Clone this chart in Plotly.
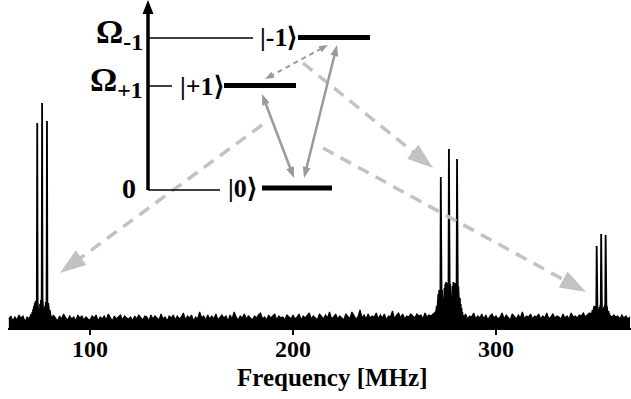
import math
import plotly.graph_objects as go

# ---------------- data ----------------
# broadband noise floor, one sample per MHz starting at 60 MHz
noise_start_mhz = 60
noise_levels = [
    9, 12, 7, 11, 8, 13, 10, 12, 6, 11, 9, 14, 10, 12, 11, 13, 10, 12, 9, 11,
    12, 8, 13, 10, 7, 12, 9, 14, 10, 8, 12, 9, 11, 7, 13, 10, 12, 8, 11, 9,
    8, 12, 10, 13, 7, 11, 9, 12, 8, 14, 10, 7, 12, 9, 11, 13, 8, 12, 10, 9,
    11, 7, 12, 9, 13, 10, 8, 12, 11, 7, 13, 9, 12, 10, 8, 14, 9, 11, 7, 12,
    10, 13, 8, 12, 9, 11, 15, 8, 12, 10, 13, 7, 11, 9, 16, 10, 12, 8, 13, 9,
    12, 9, 14, 8, 11, 13, 10, 12, 7, 13, 9, 16, 11, 8, 12, 10, 14, 9, 12, 10,
    8, 12, 10, 13, 15, 9, 11, 8, 13, 10, 12, 14, 8, 12, 10, 11, 8, 13, 11, 9,
    13, 9, 11, 14, 8, 12, 10, 13, 15, 9, 12, 10, 8, 14, 11, 9, 13, 10, 16, 9,
    11, 14, 9, 12, 10, 8, 14, 11, 9, 16, 12, 9, 11, 18, 10, 13, 9, 14, 10, 12,
    11, 15, 9, 13, 10, 14, 8, 12, 11, 17, 9, 13, 15, 10, 14, 9, 12, 11, 14, 12,
    10, 14, 12, 13, 9, 15, 11, 13, 12, 14, 15, 16, 17, 18, 16, 15, 14, 13, 12, 11,
    13, 15, 14, 12, 10, 14, 9, 12, 11, 15, 9, 12, 10, 14, 9, 13, 8, 12, 14, 10,
    12, 9, 11, 15, 9, 13, 10, 8, 14, 11, 9, 13, 10, 16, 9, 12, 11, 14, 9, 12,
    11, 14, 9, 12, 10, 15, 9, 11, 14, 10, 12, 11, 9, 14, 10, 12, 9, 15, 11, 12,
    10, 13, 12, 15, 11, 13, 15, 14, 16, 17, 16, 15, 16, 14, 15, 13, 12, 10, 13, 11,
    12, 9, 13, 10, 12, 9, 11,
]

# resonance groups, sampled every 0.2 MHz
fine_step_mhz = 0.2

group1_start_mhz = 70.0
group1_levels = [
    8, 6, 10, 7, 12, 9, 14, 11, 16, 13, 19, 15, 22, 17, 25, 20, 27, 18, 24, 30,
    205, 26, 12, 22, 4, 18, 10, 24, 14, 28, 20, 32, 225, 30, 16, 26, 6, 20, 3, 22,
    14, 26, 20, 28, 207, 24, 18, 25, 15, 22, 13, 18, 10, 15, 8, 12, 7, 10, 6, 9, 7,
]

group2_start_mhz = 269.0
group2_levels = [
    9, 12, 8, 14, 10, 16, 11, 18, 13, 22, 15, 28, 18, 34, 20, 38, 24, 35, 30, 151,
    32, 22, 38, 12, 34, 6, 30, 18, 40, 26, 44, 30, 46, 34, 42, 38, 45, 36, 44, 179,
    42, 30, 44, 14, 36, 5, 32, 20, 42, 28, 46, 32, 44, 36, 45, 38, 44, 34, 42, 169,
    40, 30, 42, 22, 36, 16, 30, 14, 24, 12, 20, 10, 16, 8, 13, 7, 11, 6, 10, 7, 9,
]

group3_start_mhz = 345.0
group3_levels = [
    8, 11, 7, 12, 9, 13, 8, 14, 10, 15, 11, 16, 12, 18, 14, 20, 15, 22, 17, 21,
    16, 22, 18, 82, 20, 12, 19, 6, 18, 10, 21, 15, 23, 19, 94, 22, 14, 20, 4, 18,
    9, 21, 15, 23, 19, 93, 21, 16, 22, 13, 19, 11, 17, 10, 15, 9, 13, 8, 12, 7,
    11, 8, 12, 7, 10, 8, 11, 7, 10, 8, 9,
]

tick_values = [100, 200, 300]
tick_labels = ["100", "200", "300"]
x_title = "Frequency [MHz]"

level_names = ["|-1⟩", "|+1⟩", "|0⟩"]
energy_labels = ["Ω<sub>-1</sub>", "Ω<sub>+1</sub>", "0"]

# ---------------- layout constants ----------------
W, H = 631, 399
ML, MR, MT, MB = 8, 0, 0, 71
PLOT_W = W - ML - MR
PLOT_H = H - MT - MB
X_RANGE = [59.6, 366.5]
Y_RANGE = [0, PLOT_H]

FONT = "Liberation Serif, Times New Roman, serif"
DARK = "#9a9a9a"
LIGHT = "#c2c2c2"


def grid(start, n, step):
    return [round(start + step * i, 3) for i in range(n)]


def px(x):
    return (x - ML) / PLOT_W


def py(y):
    return (MT + PLOT_H - y) / PLOT_H


fig = go.Figure()

fig.add_trace(go.Scatter(
    x=grid(noise_start_mhz, len(noise_levels), 1.0), y=noise_levels,
    mode="lines", line=dict(color="black", width=1.2),
    fill="tozeroy", fillcolor="black", hoverinfo="skip", showlegend=False))

for start, levels in [(group1_start_mhz, group1_levels),
                      (group2_start_mhz, group2_levels),
                      (group3_start_mhz, group3_levels)]:
    fig.add_trace(go.Scatter(
        x=grid(start, len(levels), fine_step_mhz), y=levels,
        mode="lines", line=dict(color="black", width=1.8),
        fill="tozeroy", fillcolor="black",
        hoverinfo="skip", showlegend=False))

shapes = []
annotations = []


def line(x0, y0, x1, y1, color="black", width=1.5, dash="solid"):
    shapes.append(dict(type="line", xref="paper", yref="paper",
                       x0=px(x0), y0=py(y0), x1=px(x1), y1=py(y1),
                       line=dict(color=color, width=width, dash=dash)))


def head(tip, tail, length, width, color):
    dx, dy = tip[0] - tail[0], tip[1] - tail[1]
    d = math.hypot(dx, dy)
    ux, uy = dx / d, dy / d
    bx, by = tip[0] - ux * length, tip[1] - uy * length
    nx, ny = -uy, ux
    p1 = (bx + nx * width / 2, by + ny * width / 2)
    p2 = (bx - nx * width / 2, by - ny * width / 2)
    path = "M {},{} L {},{} L {},{} Z".format(
        px(tip[0]), py(tip[1]), px(p1[0]), py(p1[1]), px(p2[0]), py(p2[1]))
    shapes.append(dict(type="path", xref="paper", yref="paper", path=path,
                       fillcolor=color, line=dict(width=0)))
    return (tip[0] - ux * length * 0.8, tip[1] - uy * length * 0.8)


def arrow(tail, tip, color, width, hl, hw, dash="solid", double=False):
    end = head(tip, tail, hl, hw, color)
    start = tail
    if double:
        start = head(tail, tip, hl, hw, color)
    line(start[0], start[1], end[0], end[1], color=color, width=width, dash=dash)


def text(x, y, s, size, anchor="center"):
    annotations.append(dict(xref="paper", yref="paper", x=px(x), y=py(y),
                            text=s, showarrow=False, xanchor=anchor,
                            yanchor="middle",
                            font=dict(family=FONT, size=size, color="black",
                                      weight="bold")))


# light dashed arrows pointing to the resonance groups
arrow((262, 125), (60, 273), LIGHT, 3.5, 26, 18, dash="12px,8px")
arrow((303, 63), (433, 168), LIGHT, 3.5, 26, 18, dash="12px,8px")
arrow((323, 148), (586, 292), LIGHT, 3.5, 26, 18, dash="12px,8px")

# energy axis
line(148, 190, 148, 10, width=3.5)
head((148, 0), (148, 100), 14, 11, "black")

# levels
line(148, 38, 253, 38)
line(148, 86, 172, 86)
line(148, 190, 220, 190)
line(298, 37.5, 370, 37.5, width=5)
line(224, 85.5, 296, 85.5, width=5)
line(262, 188, 332, 188, width=5)

# transitions
arrow((262, 94), (294, 178), DARK, 2.5, 11, 8, double=True)
arrow((304, 178), (337, 45), DARK, 2.5, 11, 8, double=True)
arrow((328, 45), (265, 79), DARK, 2, 9, 7, dash="5px,4px", double=True)

# labels
text(278, 37, level_names[0], 26)
text(202, 86, level_names[1], 26)
text(242, 188, level_names[2], 26)
text(145, 34, energy_labels[0], 34, anchor="right")
text(145, 82, energy_labels[1], 34, anchor="right")
text(138, 188, energy_labels[2], 28, anchor="right")

# tick labels placed on the axis scale
for v, lab in zip(tick_values, tick_labels):
    annotations.append(dict(xref="x", yref="paper", x=v, y=py(349),
                            text=lab, showarrow=False, xanchor="center",
                            yanchor="middle",
                            font=dict(family=FONT, size=24, color="black",
                                      weight="bold")))

annotations.append(dict(xref="paper", yref="paper", x=px(332), y=py(377),
                        text=x_title, showarrow=False, xanchor="center",
                        yanchor="middle",
                        font=dict(family=FONT, size=25, color="black",
                                  weight="bold")))

fig.update_layout(
    width=W, height=H,
    margin=dict(l=ML, r=MR, t=MT, b=MB, pad=0),
    paper_bgcolor="white", plot_bgcolor="white",
    shapes=shapes, annotations=annotations,
    xaxis=dict(range=X_RANGE, showgrid=False, zeroline=False,
               showline=True, linecolor="black", linewidth=1.5,
               ticks="outside", ticklen=5, tickwidth=2, tickcolor="black",
               tickvals=tick_values, showticklabels=False,
               fixedrange=True),
    yaxis=dict(range=Y_RANGE, visible=False, fixedrange=True),
)

fig.write_html("out.html")
